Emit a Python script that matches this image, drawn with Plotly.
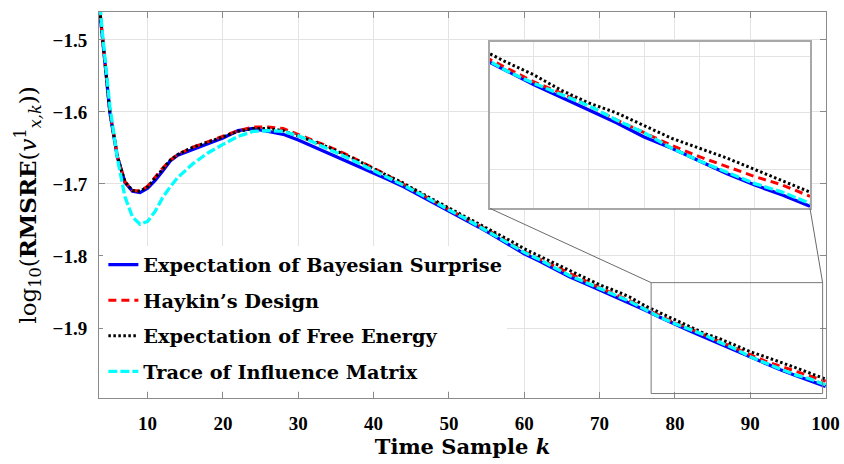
import plotly.graph_objects as go

# ---------------- data ----------------
k = [3, 4, 5, 6, 7, 8, 9, 10, 11, 12, 13, 14, 16, 18, 20, 22, 24, 26, 28, 30,
     32, 34, 36, 38, 40, 42, 44, 46, 48, 50, 52, 54, 56, 58, 60, 62, 64, 66, 68, 70,
     72, 74, 76, 78, 80, 82, 84, 86, 88, 90, 92, 94, 96, 98, 100]

bayes_surprise = [-1.390, -1.497, -1.601, -1.663, -1.698, -1.710, -1.712, -1.706, -1.695, -1.682,
                  -1.668, -1.660, -1.652, -1.645, -1.636, -1.626, -1.623, -1.627, -1.631, -1.639,
                  -1.648, -1.657, -1.667, -1.676, -1.685, -1.694, -1.704, -1.715, -1.726, -1.737,
                  -1.748, -1.760, -1.772, -1.785, -1.797, -1.807, -1.818, -1.829, -1.838, -1.847,
                  -1.856, -1.865, -1.875, -1.885, -1.895, -1.904, -1.913, -1.922, -1.932, -1.940,
                  -1.949, -1.958, -1.966, -1.973, -1.981]

haykin = [-1.390, -1.497, -1.600, -1.662, -1.697, -1.709, -1.710, -1.703, -1.690, -1.678,
          -1.667, -1.659, -1.649, -1.641, -1.633, -1.626, -1.621, -1.621, -1.623, -1.631,
          -1.640, -1.648, -1.657, -1.667, -1.678, -1.689, -1.700, -1.712, -1.724, -1.735,
          -1.746, -1.757, -1.769, -1.782, -1.794, -1.804, -1.814, -1.825, -1.835, -1.844,
          -1.853, -1.862, -1.873, -1.883, -1.893, -1.901, -1.910, -1.920, -1.929, -1.938,
          -1.946, -1.953, -1.960, -1.966, -1.974]

free_energy = [-1.390, -1.497, -1.600, -1.662, -1.697, -1.709, -1.710, -1.704, -1.692, -1.679,
               -1.667, -1.659, -1.649, -1.642, -1.634, -1.627, -1.623, -1.623, -1.626, -1.633,
               -1.641, -1.649, -1.658, -1.668, -1.679, -1.689, -1.699, -1.711, -1.722, -1.733,
               -1.744, -1.755, -1.766, -1.778, -1.790, -1.800, -1.810, -1.821, -1.831, -1.840,
               -1.848, -1.857, -1.869, -1.879, -1.888, -1.899, -1.908, -1.915, -1.924, -1.933,
               -1.940, -1.947, -1.955, -1.963, -1.971]

influence_trace = [-1.370, -1.490, -1.593, -1.665, -1.718, -1.746, -1.756, -1.752, -1.738, -1.719,
                   -1.704, -1.691, -1.672, -1.657, -1.645, -1.634, -1.627, -1.626, -1.627, -1.633,
                   -1.642, -1.651, -1.661, -1.671, -1.681, -1.691, -1.702, -1.713, -1.725, -1.736,
                   -1.747, -1.759, -1.771, -1.783, -1.795, -1.805, -1.816, -1.827, -1.836, -1.845,
                   -1.854, -1.863, -1.874, -1.885, -1.894, -1.902, -1.910, -1.920, -1.929, -1.940,
                   -1.949, -1.957, -1.965, -1.971, -1.979]

names = ["Expectation of Bayesian Surprise", "Haykin\u2019s Design",
         "Expectation of Free Energy", "Trace of Influence Matrix"]
series = [bayes_surprise, haykin, free_energy, influence_trace]

x_ticks = [10, 20, 30, 40, 50, 60, 70, 80, 90, 100]
y_ticks = [-1.9, -1.8, -1.7, -1.6, -1.5]

# ---------------- styles ----------------
styles = [
    dict(color="#0000ff", width=3.3, dash="solid"),
    dict(color="#ff0000", width=3.0, dash="8px,5px"),
    dict(color="#000000", width=3.0, dash="2.5px,2.5px"),
    dict(color="#00ffff", width=3.3, dash="9px,3px"),
]

X_RANGE = [3.55, 100.05]
Y_RANGE = [-1.9972, -1.4612]
INSET_XDOM = [0.5376, 0.978]
INSET_YDOM = [0.4913, 0.9223]
INSET_XRANGE = [76.84, 100.0]
INSET_YRANGE = [-1.9825, -1.8649]
ZOOM_BOX = dict(x0=76.84, x1=99.6, y0=-1.991, y1=-1.837)

SERIF = "Liberation Serif, Times New Roman, serif"
CMLIKE = "DejaVu Serif, serif"
GRID = "#e3e3e3"
AXC = "#8a8a8a"

fig = go.Figure()
for nm, ys, st in zip(names, series, styles):
    fig.add_trace(go.Scatter(x=k, y=ys, mode="lines", name=nm, line=st,
                             legendgroup=nm, xaxis="x", yaxis="y"))
for nm, ys, st in zip(names, series, styles):
    fig.add_trace(go.Scatter(x=k, y=ys, mode="lines", name=nm, line=st,
                             showlegend=False, xaxis="x2", yaxis="y2"))

def to_data(frac, rng):
    return rng[0] + frac * (rng[1] - rng[0])

ix0, ix1 = to_data(INSET_XDOM[0], X_RANGE), to_data(INSET_XDOM[1], X_RANGE)
iy0, iy1 = to_data(INSET_YDOM[0], Y_RANGE), to_data(INSET_YDOM[1], Y_RANGE)

shapes = [
    dict(type="rect", xref="x", yref="y", x0=ix0, x1=ix1, y0=iy0, y1=iy1,
         fillcolor="white", line=dict(width=0), layer="between"),
    dict(type="rect", xref="x", yref="y", line=dict(color="#7a7a7a", width=1),
         layer="above", **ZOOM_BOX),
    dict(type="line", xref="x", yref="y", x0=ix0, y0=iy0, x1=ZOOM_BOX["x0"], y1=ZOOM_BOX["y1"],
         line=dict(color="#6a6a6a", width=1), layer="above"),
    dict(type="line", xref="x", yref="y", x0=ix1, y0=iy0, x1=ZOOM_BOX["x1"], y1=ZOOM_BOX["y1"],
         line=dict(color="#6a6a6a", width=1), layer="above"),
]

tickfont = dict(family=SERIF, size=19, color="black", weight="bold")

fig.update_layout(
    width=844, height=464,
    margin=dict(l=99, r=18, t=12, b=66, autoexpand=False),
    paper_bgcolor="white", plot_bgcolor="white",
    showlegend=True,
    xaxis=dict(range=X_RANGE, tickvals=x_ticks, ticks="inside", ticklen=6, tickcolor=AXC,
               showline=True, linecolor=AXC, linewidth=1, mirror="ticks", automargin=False,
               showgrid=True, gridcolor=GRID, gridwidth=1, zeroline=False,
               tickfont=tickfont, ticklabelstandoff=8,
               title=dict(text="Time Sample <i>k</i>",
                          font=dict(family=CMLIKE, size=21, color="black", weight="bold"),
                          standoff=4)),
    yaxis=dict(range=Y_RANGE, tickvals=y_ticks, ticks="inside", ticklen=6, tickcolor=AXC,
               showline=True, linecolor=AXC, linewidth=1, mirror="ticks", automargin=False,
               showgrid=True, gridcolor=GRID, gridwidth=1, zeroline=False,
               tickfont=tickfont, ticklabelstandoff=7,
               title=dict(text="log<sub>10</sub>(<b>RMSRE</b>(<i>v</i><sup>1</sup><sub><i>x,k</i></sub>))",
                          font=dict(family=CMLIKE, size=23, color="black"),
                          standoff=9)),
    xaxis2=dict(domain=INSET_XDOM, anchor="y2", range=INSET_XRANGE, dtick=4, tick0=0,
                showticklabels=False, ticks="", showline=True, linecolor="#a8a8a8",
                linewidth=1.5, mirror=True, showgrid=True, gridcolor=GRID, zeroline=False,
                automargin=False),
    yaxis2=dict(domain=INSET_YDOM, anchor="x2", range=INSET_YRANGE, dtick=0.04, tick0=-1.875,
                showticklabels=False, ticks="", showline=True, linecolor="#a8a8a8",
                linewidth=1.5, mirror=True, showgrid=True, gridcolor=GRID, zeroline=False,
                automargin=False),
    legend=dict(x=0.006, y=0.395, xanchor="left", yanchor="top", bgcolor="white",
                borderwidth=0, itemwidth=30, tracegroupgap=7.5,
                font=dict(family=CMLIKE, size=19.3, color="black", weight="bold")),
    shapes=shapes,
)

fig.write_html("out.html")
